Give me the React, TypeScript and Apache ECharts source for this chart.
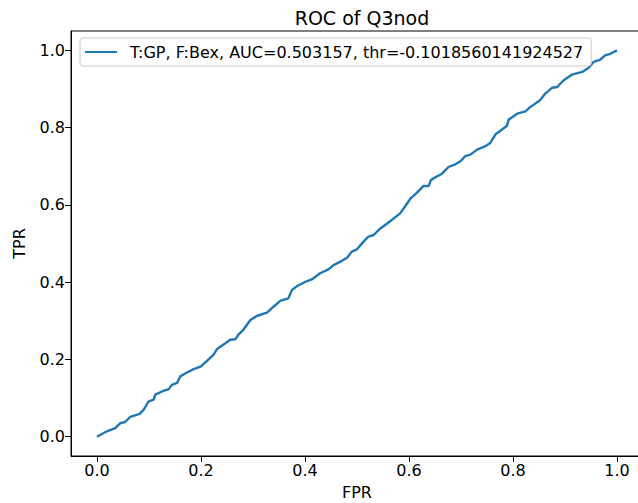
import React, { useEffect, useRef } from "react";
import * as echarts from "echarts";

const fpr = [
  0, 0.019, 0.035, 0.045, 0.054, 0.064, 0.082, 0.09, 0.099, 0.109, 0.112, 0.125, 0.138, 0.144, 0.154, 0.16,
  0.173, 0.186, 0.2, 0.212, 0.224, 0.231, 0.247, 0.256, 0.266, 0.272, 0.281, 0.295, 0.308, 0.327, 0.34, 0.353,
  0.368, 0.375, 0.385, 0.401, 0.413, 0.429, 0.445, 0.455, 0.468, 0.481, 0.49, 0.5, 0.51, 0.522, 0.532, 0.545,
  0.554, 0.567, 0.583, 0.593, 0.603, 0.615, 0.628, 0.638, 0.642, 0.654, 0.663, 0.676, 0.689, 0.699, 0.708,
  0.718, 0.731, 0.747, 0.756, 0.766, 0.779, 0.788, 0.792, 0.808, 0.824, 0.833, 0.852, 0.862, 0.875, 0.885,
  0.897, 0.913, 0.933, 0.945, 0.955, 0.968, 0.977, 0.987, 1.0,
];
const tpr = [
  0, 0.014, 0.022, 0.035, 0.038, 0.051, 0.059, 0.07, 0.091, 0.096, 0.109, 0.117, 0.123, 0.134, 0.139, 0.156,
  0.166, 0.175, 0.182, 0.197, 0.212, 0.227, 0.242, 0.251, 0.252, 0.264, 0.276, 0.302, 0.313, 0.321, 0.337, 0.352,
  0.358, 0.38, 0.39, 0.401, 0.407, 0.423, 0.433, 0.444, 0.453, 0.463, 0.479, 0.485, 0.501, 0.518, 0.522, 0.539,
  0.548, 0.561, 0.578, 0.597, 0.617, 0.631, 0.649, 0.649, 0.664, 0.674, 0.68, 0.698, 0.705, 0.713, 0.726,
  0.73, 0.743, 0.752, 0.76, 0.782, 0.795, 0.804, 0.821, 0.836, 0.842, 0.853, 0.871, 0.888, 0.903, 0.905,
  0.922, 0.937, 0.944, 0.954, 0.97, 0.976, 0.987, 0.991, 1.0,
];
const tickValues = [0, 0.2, 0.4, 0.6, 0.8, 1.0];
const seriesName = "T:GP, F:Bex, AUC=0.503157, thr=-0.1018560141924527";
const titleText = "ROC of Q3nod";
const xLabel = "FPR";
const yLabel = "TPR";

const FONT = "DejaVu Sans";

export default function App() {
  const ref = useRef<HTMLDivElement>(null);
  useEffect(() => {
    if (!ref.current) return;
    const chart = echarts.init(ref.current, null, { renderer: "svg" });
    const axisCommon = {
      type: "value",
      min: -0.05,
      max: 1.05,
      splitLine: { show: false },
      axisLine: { show: true, onZero: false, lineStyle: { color: "#000", width: 1 } },
      axisTick: { show: true, length: 6, customValues: tickValues, lineStyle: { color: "#000", width: 1 } },
      axisLabel: {
        customValues: tickValues,
        formatter: (v: number) => v.toFixed(1),
        color: "#000",
        fontSize: 16,
        fontFamily: FONT,
        margin: 6,
      },
      nameLocation: "middle",
      nameTextStyle: { color: "#000", fontSize: 16, fontFamily: FONT },
    };
    chart.setOption({
      animation: false,
      backgroundColor: "#fff",
      title: {
        text: titleText,
        left: 357,
        textAlign: "center",
        top: 3,
        textStyle: { color: "#000", fontSize: 19, fontWeight: "normal", fontFamily: FONT },
      },
      legend: {
        left: 80,
        top: 38,
        z: 10,
        data: [seriesName],
        icon: "rect",
        itemWidth: 32,
        itemHeight: 2,
        padding: [6, 8, 6, 5],
        borderColor: "#cccccc",
        borderWidth: 1,
        borderRadius: 3,
        backgroundColor: "rgba(255,255,255,0.8)",
        textStyle: { color: "#000", fontSize: 16, fontFamily: FONT, padding: [0, 0, 0, 8] },
      },
      grid: {
        left: 71,
        width: 572,
        top: 31,
        height: 425,
        containLabel: false,
        outerBoundsMode: "none",
        show: true,
        borderColor: "#000",
        borderWidth: 1,
        backgroundColor: "transparent",
      },
      xAxis: { ...axisCommon, name: xLabel, nameGap: 28 },
      yAxis: { ...axisCommon, name: yLabel, nameGap: 44 },
      series: [
        {
          name: seriesName,
          type: "line",
          data: fpr.map((x, i) => [x, tpr[i]]),
          symbol: "none",
          lineStyle: { color: "#1f77b4", width: 2.4 },
          itemStyle: { color: "#1f77b4" },
        },
      ],
    });
    return () => chart.dispose();
  }, []);
  return (
    <div
      ref={ref}
      style={{ position: "fixed", left: 0, top: 0, width: 638, height: 503 }}
    />
  );
}
